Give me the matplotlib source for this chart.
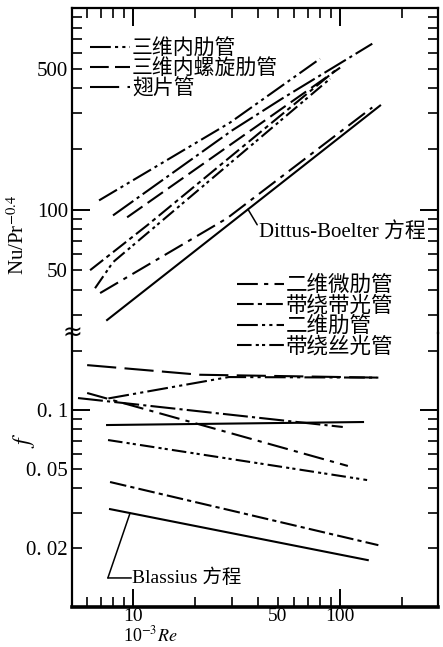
import numpy as np
import matplotlib
matplotlib.use('Agg')
import matplotlib.pyplot as plt
from matplotlib.lines import Line2D
from matplotlib.ticker import LogLocator, FuncFormatter

plt.rcParams['font.family'] = ['Liberation Serif', 'Noto Sans CJK SC']
plt.rcParams['mathtext.fontset'] = 'stix'

# ---------------- data (x = 10^-3 Re) ----------------
# upper panel: Nu/Pr^-0.4
u1_x = [6.85, 29.4, 80];          u1_y = [111, 270, 560]
u2_x = [8.0, 30.1, 52.4, 143];    u2_y = [93.5, 247, 355, 665]
u3_x = [9.36, 100];               u3_y = [91.5, 506]
u4_x = [6.2, 11.7, 94.6];         u4_y = [50, 83.5, 489]
u5_x = [6.55, 8.0, 89.5];         u5_y = [40.7, 54.8, 446]
u6_x = [6.93, 28.4, 143];         u6_y = [38.5, 90.4, 321]
db_x = [7.49, 156];               db_y = [28.3, 328]

# lower panel: f
f1_x = [6.0, 21, 153];            f1_y = [0.169, 0.151, 0.146]
f2_x = [7.6, 29, 150];            f2_y = [0.1145, 0.147, 0.146]
f3_x = [6.0, 109];                f3_y = [0.122, 0.052]
f4_x = [5.42, 103];               f4_y = [0.115, 0.082]
f5_x = [7.49, 129];               f5_y = [0.0839, 0.0869]
f6_x = [7.57, 135];               f6_y = [0.0704, 0.0441]
f7_x = [7.74, 153];               f7_y = [0.0431, 0.0206]
bl_x = [7.74, 136];               bl_y = [0.0314, 0.0173]

legend1_labels = ['三维内肋管', '三维内螺旋肋管', '翅片管']
legend2_labels = ['二维微肋管', '带绕带光管', '二维肋管', '带绕丝光管']
x_tick_labels = {10: '10', 50: '50', 100: '100'}
yu_tick_labels = {50: '50', 100: '100', 500: '500'}
yl_tick_labels = {0.1: '0. 1', 0.05: '0. 05', 0.02: '0. 02'}

# ---------------- styles ----------------
DDOT = (0, (10, 2, 1.5, 2, 1.5, 2))
DDOT2 = (0, (7, 2, 1.5, 1.5, 1.5, 2))
DDOTL = (0, (12, 2, 1.5, 2))
DASH = (0, (9, 3))
DDASH = (0, (8, 2, 2, 2))
DDASH2 = (0, (10, 3, 2, 3))
LDASH = (0, (14, 4))
LW = 1.5

fig = plt.figure(figsize=(4.43, 6.47), dpi=100)
W, H = 443, 647
left, right = 72, 438
top_u, brk, bot = 8, 333, 607
ax_u = fig.add_axes([left / W, 1 - brk / H, (right - left) / W, (brk - top_u) / H])
ax_l = fig.add_axes([left / W, 1 - bot / H, (right - left) / W, (bot - brk) / H])
ax_l.patch.set_alpha(0)

XLIM = (5.07, 297)
for ax in (ax_u, ax_l):
    ax.set_xscale('log')
    ax.set_yscale('log')
    ax.set_xlim(*XLIM)
    for s in ax.spines.values():
        s.set_linewidth(1.6)

ax_u.set_ylim(24.4, 1000)
ax_l.set_ylim(0.0100, 0.246)

# upper lines
ax_u.plot(u1_x, u1_y, color='k', lw=LW, ls=DDOT)
ax_u.plot(u2_x, u2_y, color='k', lw=LW, ls=DDOTL)
ax_u.plot(u3_x, u3_y, color='k', lw=LW, ls=DASH)
ax_u.plot(u4_x, u4_y, color='k', lw=LW, ls=DDASH)
ax_u.plot(u5_x, u5_y, color='k', lw=LW, ls=DDOT2)
ax_u.plot(u6_x, u6_y, color='k', lw=LW, ls=DDASH2)
ax_u.plot(db_x, db_y, color='k', lw=LW, ls='-')

# lower lines
ax_l.plot(f1_x, f1_y, color='k', lw=LW, ls=LDASH)
ax_l.plot(f2_x, f2_y, color='k', lw=LW, ls=DDOT)
ax_l.plot(f3_x, f3_y, color='k', lw=LW, ls=DDASH2)
ax_l.plot(f4_x, f4_y, color='k', lw=LW, ls=DDOTL)
ax_l.plot(f5_x, f5_y, color='k', lw=LW, ls='-')
ax_l.plot(f6_x, f6_y, color='k', lw=LW, ls=DDOT2)
ax_l.plot(f7_x, f7_y, color='k', lw=LW, ls=DDASH)
ax_l.plot(bl_x, bl_y, color='k', lw=LW, ls='-')

# ---------------- ticks ----------------
def fmt_from(d):
    def f(v, pos):
        for k, s in d.items():
            if abs(v - k) / k < 1e-6:
                return s
        return ''
    return FuncFormatter(f)

for ax in (ax_u, ax_l):
    ax.xaxis.set_major_locator(LogLocator(base=10, numticks=10))
    ax.xaxis.set_minor_locator(LogLocator(base=10, subs=np.arange(2, 10), numticks=20))
    ax.yaxis.set_major_locator(LogLocator(base=10, numticks=10))
    ax.yaxis.set_minor_locator(LogLocator(base=10, subs=np.arange(2, 10), numticks=20))
    ax.tick_params(which='major', direction='in', length=13, width=1.4, labelsize=15, pad=3)
    ax.tick_params(which='minor', direction='in', length=7, width=1.2, labelsize=15, pad=3)

ax_u.tick_params(which='both', top=True, bottom=False, right=True, left=True,
                 labelbottom=False, labeltop=False)
ax_u.spines['bottom'].set_visible(False)
ax_u.yaxis.set_major_formatter(fmt_from(yu_tick_labels))
ax_u.yaxis.set_minor_formatter(fmt_from(yu_tick_labels))

ax_l.tick_params(which='both', top=False, bottom=True, right=True, left=True)
ax_l.tick_params(axis='x', which='both', pad=1, labelsize=14)
ax_l.spines['top'].set_visible(False)
ax_l.xaxis.set_major_formatter(fmt_from(x_tick_labels))
ax_l.xaxis.set_minor_formatter(fmt_from(x_tick_labels))
ax_l.yaxis.set_major_formatter(fmt_from(yl_tick_labels))
ax_l.yaxis.set_minor_formatter(fmt_from(yl_tick_labels))
ax_l.spines['bottom'].set_linewidth(2.6)

# ---------------- legends ----------------
h1 = [Line2D([], [], color='k', lw=LW, ls=s) for s in (DDOT, DASH, LDASH)]
leg1 = ax_u.legend(h1, legend1_labels, loc='upper left', bbox_to_anchor=(0.05, 0.905),
                   frameon=False, fontsize=15, handlelength=1.9, handletextpad=0.1,
                   labelspacing=0.02, borderpad=0, borderaxespad=0)
ax_u.add_artist(leg1)
h2 = [Line2D([], [], color='k', lw=LW, ls=s) for s in (DDASH2, DDASH, DDOT, DDOT2)]
ax_u.legend(h2, legend2_labels, loc='upper left', bbox_to_anchor=(0.45, 0.175),
            frameon=False, fontsize=15.5, handlelength=2.2, handletextpad=0.1,
            labelspacing=0.0, borderpad=0, borderaxespad=0)

# ---------------- annotations ----------------
def interp_log(xs, ys, x):
    return 10 ** np.interp(np.log10(x), np.log10(xs), np.log10(ys))

x_db = 35.9
ax_u.annotate('', xy=(x_db, interp_log(db_x, db_y, x_db)), xycoords='data',
              xytext=(0.506, 0.333), textcoords='axes fraction',
              arrowprops=dict(arrowstyle='-', lw=1.1, color='k', shrinkA=0, shrinkB=0))
ax_u.text(0.51, 0.31, 'Dittus-Boelter 方程', transform=ax_u.transAxes,
          ha='left', va='center', fontsize=15)

x_bl = 9.67
ax_l.annotate('', xy=(x_bl, interp_log(bl_x, bl_y, x_bl)), xycoords='data',
              xytext=(0.098, 0.106), textcoords='axes fraction',
              arrowprops=dict(arrowstyle='-', lw=1.1, color='k', shrinkA=0, shrinkB=0))
ax_l.annotate('', xy=(0.098, 0.106), xycoords='axes fraction',
              xytext=(0.162, 0.106), textcoords='axes fraction',
              arrowprops=dict(arrowstyle='-', lw=1.1, color='k', shrinkA=0, shrinkB=0))
ax_l.text(0.165, 0.106, 'Blassius 方程', transform=ax_l.transAxes,
          ha='left', va='center', fontsize=14)

# ---------------- axis labels & break ----------------
fig.text(18 / W, 1 - 235 / H, r'Nu/Pr$^{-0.4}$', rotation=90, ha='center', va='center', fontsize=15)
fig.text(24 / W, 1 - 440 / H, r'$f$', rotation=90, ha='center', va='center', fontsize=17)
fig.text(150 / W, 1 - 645 / H, r'10$^{-3}$$\mathit{Re}$', ha='center', va='bottom', fontsize=13)
fig.text(left / W, 1 - brk / H, '≈', ha='center', va='center', fontsize=17, family='DejaVu Sans')

fig.savefig('out.png', dpi=100)
